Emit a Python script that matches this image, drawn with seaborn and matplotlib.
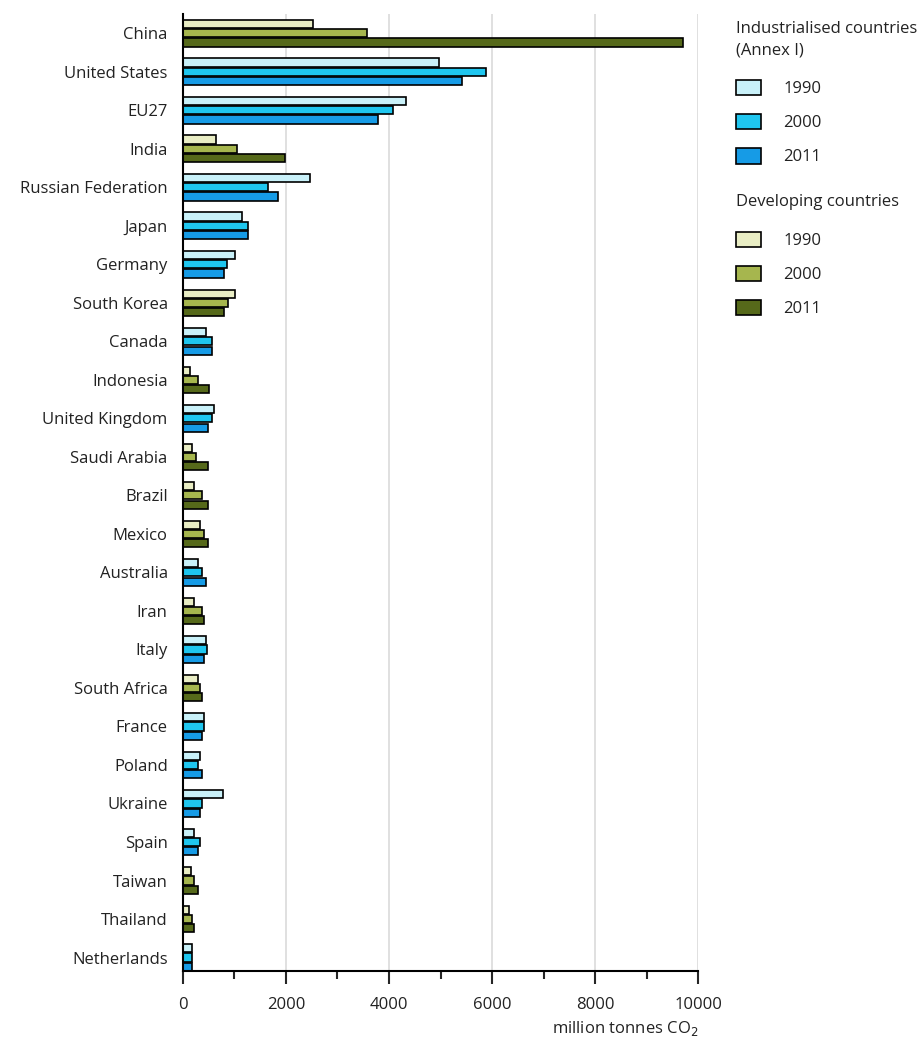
import pandas as pd
import matplotlib
matplotlib.use("Agg")
import matplotlib.pyplot as plt
from matplotlib.patches import Patch
from matplotlib.ticker import MultipleLocator
import seaborn as sns

countries = ["China", "United States", "EU27", "India", "Russian Federation",
             "Japan", "Germany", "South Korea", "Canada", "Indonesia",
             "United Kingdom", "Saudi Arabia", "Brazil", "Mexico", "Australia",
             "Iran", "Italy", "South Africa", "France", "Poland", "Ukraine",
             "Spain", "Taiwan", "Thailand", "Netherlands"]
developing = ["China", "India", "South Korea", "Indonesia", "Saudi Arabia",
              "Brazil", "Mexico", "Iran", "South Africa", "Taiwan", "Thailand"]
years = ["1990", "2000", "2011"]

co2_1990 = [2520, 4980, 4330, 650, 2460, 1150, 1015, 1010, 440, 145, 595,
            185, 220, 335, 295, 220, 440, 295, 405, 335, 770, 220, 150, 110, 185]
co2_2000 = [3580, 5880, 4075, 1050, 1660, 1255, 860, 865, 555, 300, 555,
            260, 375, 405, 375, 375, 475, 335, 405, 295, 365, 335, 220, 185, 185]
co2_2011 = [9700, 5420, 3790, 1990, 1845, 1255, 795, 790, 555, 515, 485,
            485, 485, 485, 445, 405, 405, 375, 365, 375, 335, 300, 300, 220, 185]

ind_colors = ["#c9f1f9", "#1fc6ef", "#169be6"]
dev_colors = ["#e9edc4", "#a6b64e", "#56691a"]

df = pd.DataFrame({
    "country": countries * 3,
    "year": [y for y in years for _ in countries],
    "value": co2_1990 + co2_2000 + co2_2011,
})
df["developing"] = df["country"].isin(developing)

sns.set_style("white")
plt.rcParams["font.family"] = ["Open Sans", "DejaVu Sans"]
plt.rcParams["text.color"] = "#222222"
fs = 12

fig = plt.figure(figsize=(9.24, 10.43), dpi=100)
ax = fig.add_axes([0.198, 0.069, 0.5575, 0.9176])

for is_dev, pal in [(False, ind_colors), (True, dev_colors)]:
    sns.barplot(data=df[df["developing"] == is_dev], x="value", y="country",
                hue="year", hue_order=years, order=countries, orient="h",
                palette=pal, width=0.72, gap=0.12, edgecolor="black",
                linewidth=1.2, saturation=1, legend=False, ax=ax)

ax.set_xlim(0, 10000)
ax.set_ylim(24.35, -0.5)
ax.xaxis.set_major_locator(MultipleLocator(2000))
ax.xaxis.set_minor_locator(MultipleLocator(1000))
ax.grid(axis="x", which="major", color="#dddddd", linewidth=1.3)
ax.set_axisbelow(True)
sns.despine(ax=ax, top=True, right=True)
for side in ["left", "bottom"]:
    ax.spines[side].set_linewidth(1.5)
    ax.spines[side].set_color("black")
ax.tick_params(axis="x", which="major", length=9, width=1.5, pad=10,
               labelsize=fs, bottom=True, labelcolor="#222222")
ax.tick_params(axis="x", which="minor", length=6, width=1.5, bottom=True)
ax.tick_params(axis="y", length=0, pad=11, labelsize=fs, labelcolor="#222222")
ax.set_ylabel("")
ax.set_xlabel("million tonnes CO$_2$", fontsize=fs, loc="right", labelpad=4,
              color="#222222")

ind_handles = [Patch(facecolor=c, edgecolor="black", linewidth=1.2) for c in ind_colors]
dev_handles = [Patch(facecolor=c, edgecolor="black", linewidth=1.2) for c in dev_colors]
leg_kw = dict(frameon=False, fontsize=fs, title_fontsize=fs,
              handlelength=1.5, handleheight=1.05, handletextpad=1.3,
              labelspacing=1.0, alignment="left", borderpad=0)
leg1 = fig.legend(ind_handles, years, title="Industrialised countries\n(Annex I)",
                  loc="upper left", bbox_to_anchor=(0.788, 0.988), **leg_kw)
leg2 = fig.legend(dev_handles, years, title="Developing countries",
                  loc="upper left", bbox_to_anchor=(0.788, 0.822), **leg_kw)
leg1.get_title().set_linespacing(1.45)
for leg in (leg1, leg2):
    leg._legend_box.sep = 1.3 * fs

fig.savefig("out.png", dpi=100)
